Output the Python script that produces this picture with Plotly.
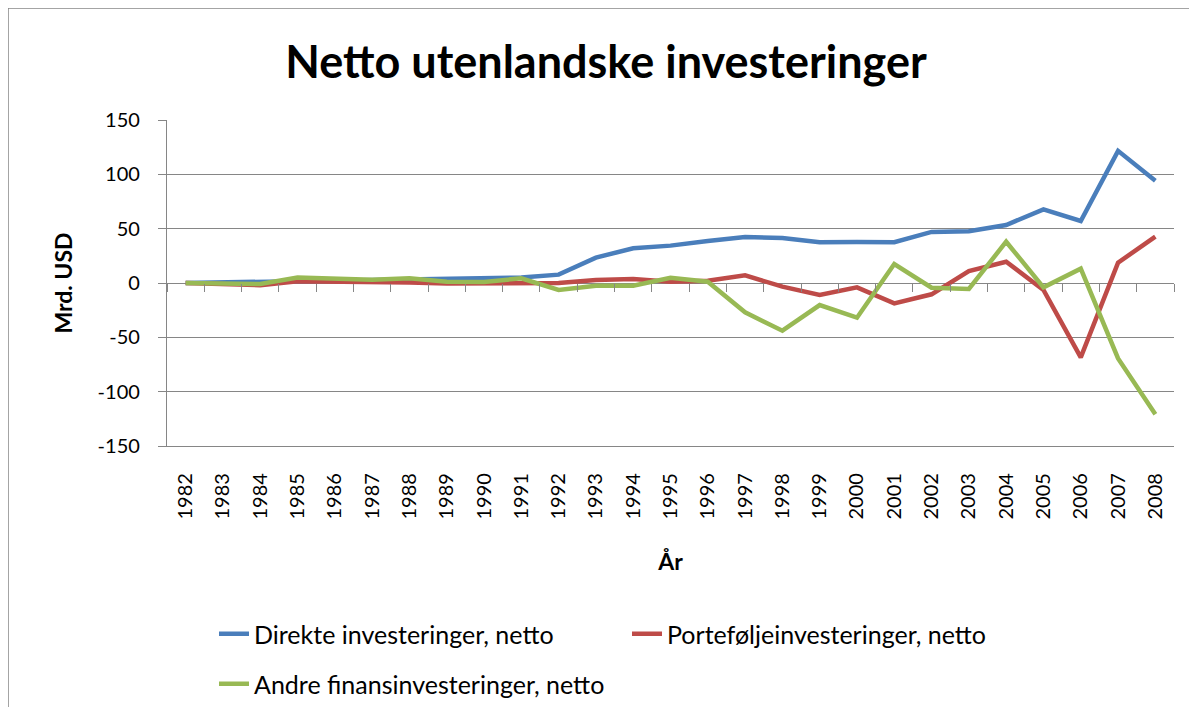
import plotly.graph_objects as go

years = [str(y) for y in range(1982, 2009)]

direkte = [0, 0.5, 1, 1.5, 2, 2.5, 2.5, 3, 3.5, 5, 7.7, 23.3, 32,
           34.4, 38.7, 42.4, 41.4, 37.5, 37.8, 37.5, 47, 47.6, 53.4, 67.8, 57.1, 121.6, 94.2]
portefolje = [0, -1, -2, 1.5, 1.5, 1, 0.5, -0.5, -0.5, 0.5, 0, 2.8, 3.7,
              1.2, 2, 7, -3.4, -11, -4, -18.7, -10.4, 11, 19.6, -6.4, -68.5, 18.7, 42.7]
andre = [0, -0.5, -1, 5, 3.8, 3, 4.3, 1.2, 1, 4.3, -6.4, -2.5, -2.5,
         4.9, 1.2, -27, -43.9, -20.3, -31.9, 17.5, -4.3, -5.5, 38, -4, 13.2, -69.4, -120.7]

names = ["Direkte investeringer, netto", "Porteføljeinvesteringer, netto",
         "Andre finansinvesteringer, netto"]
colors = ["#4A7EBB", "#BE4B48", "#98B954"]
yticks = [-150, -100, -50, 0, 50, 100, 150]
yticklabels = ["-150", "-100", "-50", "0", "50", "100", "150"]

FONT = "Lato, Carlito, Calibri, sans-serif"
GRID = "#868686"

# page body has an 8px margin; figure is placed at (8, 8)
OFF = 8
W, H = 1181, 699
L, R, T, B = 159, 15, 112, 261
PW = W - L - R
PH = H - T - B

def px(p):  # page x -> paper x
    return (p - OFF - L) / PW

def py(p):  # page y -> paper y
    return (H - B - (p - OFF)) / PH

fig = go.Figure()
for vals, name, col, lg in zip([direkte, portefolje, andre], names, colors,
                               ["legend", "legend", "legend2"]):
    fig.add_trace(go.Scatter(x=years, y=vals, name=name, mode="lines",
                             line=dict(color=col, width=4.5), legend=lg))

# invisible trace carrying the tick-mark axis that crosses at y=0
fig.add_trace(go.Scatter(x=years, y=direkte, xaxis="x2", mode="lines",
                         line=dict(width=0), opacity=0, showlegend=False,
                         hoverinfo="skip"))

fig.update_layout(
    width=W, height=H,
    margin=dict(l=L, r=R, t=T, b=B, autoexpand=False),
    paper_bgcolor="white", plot_bgcolor="white",
    font=dict(family=FONT, size=20, color="black"),
    title=dict(text="<b>Netto utenlandske investeringer</b>",
               font=dict(family=FONT, size=45, color="black"),
               x=(606 - OFF) / W, xref="container", xanchor="center",
               y=1 - (62 - OFF) / H, yref="container", yanchor="middle"),
    xaxis=dict(type="category", categoryarray=years, range=[-0.5, 26.5],
               tickangle=-90, ticks="", showgrid=False,
               showline=True, linecolor=GRID, linewidth=1.3,
               tickfont=dict(family=FONT, size=20), ticklabelstandoff=18,
               title=dict(text="<b>År</b>", font=dict(family=FONT, size=23),
                          standoff=35)),
    xaxis2=dict(type="category", categoryarray=years, range=[-0.5, 26.5],
                overlaying="x", anchor="free", position=0.5, side="bottom",
                ticks="outside", tickson="boundaries", ticklen=8,
                tickcolor=GRID, tickwidth=1.3,
                showticklabels=False, showgrid=False, showline=False,
                zeroline=False),
    yaxis=dict(range=[-150, 150], tickvals=yticks, ticktext=yticklabels,
               showgrid=True, gridcolor=GRID, gridwidth=1.3, zeroline=False,
               showline=True, linecolor=GRID, linewidth=1.3,
               ticks="outside", ticklen=8, tickcolor=GRID, tickwidth=1.3,
               tickfont=dict(family=FONT, size=20), ticklabelstandoff=14,
               title=dict(text="<b>Mrd. USD</b>", font=dict(family=FONT, size=23),
                          standoff=18)),
    legend=dict(orientation="h", x=px(214), xanchor="left", y=py(634),
                yanchor="middle", entrywidth=368, entrywidthmode="pixels",
                font=dict(family=FONT, size=25), bgcolor="rgba(0,0,0,0)"),
    legend2=dict(orientation="h", x=px(214), xanchor="left", y=py(684),
                 yanchor="middle", font=dict(family=FONT, size=25),
                 bgcolor="rgba(0,0,0,0)"),
    shapes=[
        dict(type="line", xref="paper", yref="paper", x0=px(8), x1=px(1197),
             y0=py(8), y1=py(8), line=dict(color=GRID, width=1.5)),
        dict(type="line", xref="paper", yref="paper", x0=px(8), x1=px(8),
             y0=py(8), y1=py(707), line=dict(color=GRID, width=1.5)),
    ],
)

fig.write_html("out.html")
